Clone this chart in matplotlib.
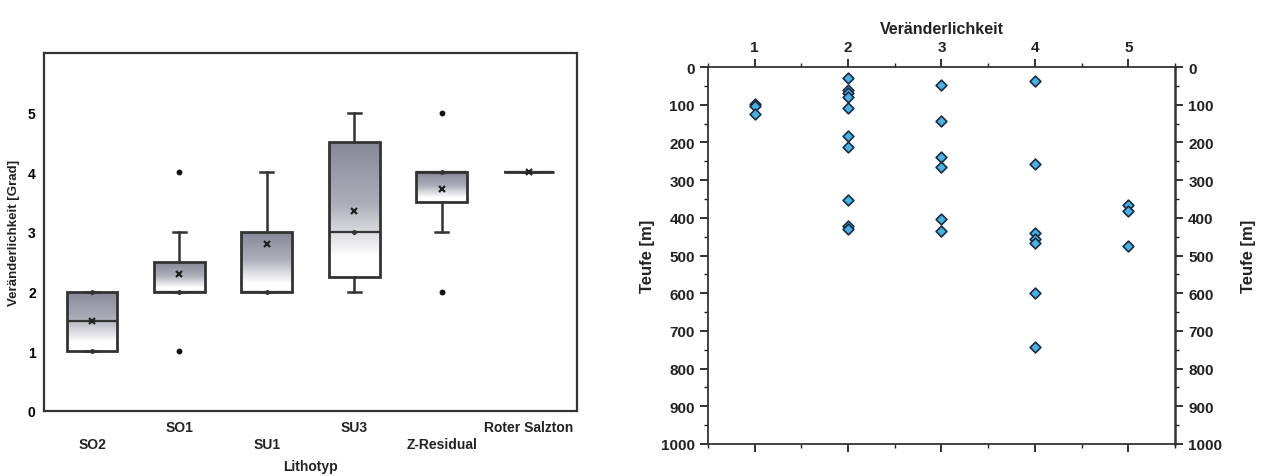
import matplotlib
matplotlib.use("Agg")
import matplotlib.pyplot as plt
import numpy as np
from matplotlib.ticker import MultipleLocator
from matplotlib.colors import LinearSegmentedColormap

plt.rcParams['font.family'] = ['Liberation Sans', 'DejaVu Sans']
plt.rcParams['font.weight'] = 'bold'

# ---------------- data: left box chart ----------------
categories = ["SO2", "SO1", "SU1", "SU3", "Z-Residual", "Roter Salzton"]
q1 = [1.0, 2.0, 2.0, 2.25, 3.5, 4.0]
median = [1.5, 2.0, 2.0, 3.0, 4.0, 4.0]
q3 = [2.0, 2.5, 3.0, 4.5, 4.0, 4.0]
whislo = [1.0, 2.0, 2.0, 2.0, 3.0, 4.0]
whishi = [2.0, 3.0, 4.0, 5.0, 4.0, 4.0]
means = [1.5, 2.29, 2.8, 3.35, 3.72, 4.0]
fliers = [[], [1.0, 4.0], [], [], [2.0, 5.0], []]
edge_dots = [[1.0, 2.0], [2.0], [2.0], [3.0], [4.0], []]

# ---------------- data: right scatter ----------------
var_class = [1, 1, 1,
             2, 2, 2, 2, 2, 2, 2, 2, 2, 2,
             3, 3, 3, 3, 3, 3,
             4, 4, 4, 4, 4, 4, 4,
             5, 5, 5]
depth = [98, 103, 125,
         30, 60, 68, 80, 110, 182, 213, 354, 423, 430,
         49, 142, 239, 265, 403, 435,
         38, 258, 441, 455, 466, 600, 744,
         367, 383, 476]

fig = plt.figure(figsize=(12.64, 4.77), dpi=100)

# ================= LEFT PANEL =================
ax1 = fig.add_axes([0.0348, 0.1363, 0.4217, 0.7505])
pos = np.arange(1, len(categories) + 1)
bw = 0.58
stats = []
for i in range(len(categories)):
    stats.append(dict(med=median[i], q1=q1[i], q3=q3[i], whislo=whislo[i],
                      whishi=whishi[i], fliers=[], label=categories[i]))
bp = ax1.bxp(stats, positions=pos, widths=bw, patch_artist=True, showfliers=False,
             boxprops=dict(facecolor='none', edgecolor='#333333', linewidth=2.0),
             medianprops=dict(color='#333333', linewidth=1.6),
             whiskerprops=dict(color='#333333', linewidth=1.8),
             capprops=dict(color='#333333', linewidth=1.8),
             capwidths=0.15, zorder=3)

grad = np.linspace(0, 1, 256).reshape(-1, 1)
cmap = LinearSegmentedColormap.from_list('g', [(0.0, '#878897'), (0.45, '#adadba'),
                                               (0.85, '#ffffff'), (1.0, '#ffffff')])
for i, b in enumerate(bp['boxes']):
    if q3[i] > q1[i]:
        im = ax1.imshow(grad, cmap=cmap, aspect='auto',
                        extent=[pos[i] - bw / 2, pos[i] + bw / 2, q1[i], q3[i]],
                        origin='upper', zorder=2)
        im.set_clip_path(b)

for i in range(len(categories)):
    for f in fliers[i]:
        ax1.plot(pos[i], f, 'o', color='#111111', ms=3.2, zorder=4)
    for d in edge_dots[i]:
        ax1.plot(pos[i], d, 'o', color='#333333', ms=2.5, zorder=4)
    ax1.plot(pos[i], means[i], 'x', color='#222222', ms=4, mew=1.6, zorder=5)

ax1.set_xlim(0.45, 6.55)
ax1.set_ylim(0, 6.0)
ax1.set_yticks([0, 1, 2, 3, 4, 5])
ax1.tick_params(axis='y', length=0, labelsize=10, pad=6)
ax1.set_xticks([])
for i, c in enumerate(categories):
    yoff = -0.045 if i % 2 == 1 else -0.093
    ax1.text(pos[i], yoff, c, transform=ax1.get_xaxis_transform(),
             ha='center', va='center', fontsize=10, fontweight='bold', color='#222222')
ax1.text(0.5, -0.155, "Lithotyp", transform=ax1.transAxes, ha='center', va='center',
         fontsize=10, fontweight='bold', color='#222222')
ax1.set_ylabel("Veränderlichkeit [Grad]", fontsize=9.5, fontweight='bold', labelpad=6,
               color='#222222')
for s in ax1.spines.values():
    s.set_linewidth(1.6)
    s.set_color('#333333')

# ================= RIGHT PANEL =================
ax2 = fig.add_axes([0.5601, 0.0671, 0.3695, 0.7903])
ax2.scatter(var_class, depth, marker='D', s=30, facecolor='#45b4e2',
            edgecolor='#1b2b45', linewidth=1.2, zorder=3)
ax2.set_xlim(0.5, 5.5)
ax2.set_ylim(1000, 0)
ax2.xaxis.set_major_locator(MultipleLocator(1))
ax2.xaxis.set_minor_locator(MultipleLocator(0.5))
ax2.yaxis.set_major_locator(MultipleLocator(100))
ax2.yaxis.set_minor_locator(MultipleLocator(50))
ax2.tick_params(axis='both', which='both', direction='out', top=True, bottom=True,
                left=True, right=True, labeltop=True, labelbottom=False,
                labelleft=True, labelright=True, labelsize=11, colors='#222222')
ax2.tick_params(which='major', length=6, width=1.3)
ax2.tick_params(which='minor', length=3, width=1.0)
ax2.xaxis.set_label_position('top')
ax2.set_xlabel("Veränderlichkeit", fontsize=11.5, fontweight='bold', labelpad=5, color='#222222')
ax2.set_ylabel("Teufe [m]", fontsize=12, fontweight='bold', labelpad=4, color='#222222')
ax2.text(1.158, 0.5, "Teufe [m]", transform=ax2.transAxes, rotation=90, ha='center',
         va='center', fontsize=12, fontweight='bold', color='#222222')
for s in ax2.spines.values():
    s.set_linewidth(1.3)
    s.set_color('#333333')
ax2.spines['right'].set_linewidth(1.8)

fig.savefig("out.png", dpi=100)
